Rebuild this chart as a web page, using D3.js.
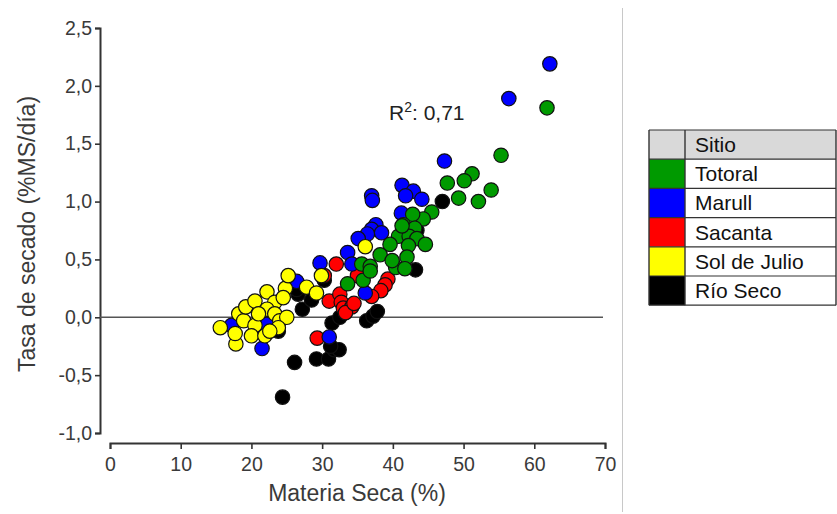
<!DOCTYPE html>
<html>
<head>
<meta charset="utf-8">
<script src="https://cdn.jsdelivr.net/npm/d3@7"></script>
<style>
  body { margin: 0; background: #fff; }
  svg { display: block; font-family: "Liberation Sans", Arial, sans-serif; }
</style>
</head>
<body>
<div id="chart"></div>
<script>
// site names + colours (legend order)
const sites = ['Totoral', 'Marull', 'Sacanta', 'Sol de Julio', 'Río Seco'];
const siteColors = ['#009a00', '#0000ff', '#ff0000', '#ffff00', '#000000'];

// [materia seca %, tasa de secado]
const totoral = [
  [61.8, 1.81], [55.3, 1.40], [51.2, 1.24], [50.1, 1.18], [47.7, 1.16], [53.9, 1.10],
  [49.3, 1.03], [52.1, 1.00], [45.5, 0.91], [44.3, 0.85], [42.8, 0.89], [41.5, 0.80],
  [43.1, 0.77], [40.8, 0.70], [42.3, 0.70], [43.4, 0.68], [39.6, 0.63], [42.2, 0.62],
  [44.6, 0.63], [38.2, 0.54], [42.0, 0.52], [35.6, 0.46], [36.8, 0.44], [40.4, 0.43],
  [41.7, 0.42], [33.6, 0.29], [35.8, 0.32], [36.8, 0.40], [39.9, 0.49], [41.3, 0.79]
];
const marull = [
  [62.2, 2.19], [56.4, 1.89], [47.3, 1.35], [37.0, 1.05], [37.1, 1.01], [41.3, 1.14],
  [42.9, 1.09], [41.8, 1.05], [44.1, 1.02], [41.2, 0.90], [37.6, 0.80], [37.0, 0.76],
  [38.4, 0.73], [36.4, 0.72], [35.1, 0.68], [33.6, 0.56], [34.2, 0.46], [29.7, 0.47],
  [26.4, 0.31], [36.1, 0.21], [31.0, -0.17], [21.5, -0.27], [17.2, -0.07], [22.2, -0.06]
];
const sacanta = [
  [32.0, 0.46], [35.0, 0.36], [39.3, 0.33], [38.9, 0.28], [38.3, 0.23], [37.0, 0.18],
  [31.0, 0.14], [32.5, 0.20], [32.7, 0.13], [33.0, 0.08], [34.2, 0.09], [33.3, 0.04],
  [29.3, -0.18], [30.3, 0.36], [34.5, 0.12]
];
const solDeJulio = [
  [15.6, -0.09], [17.8, -0.23], [17.7, -0.14], [18.2, 0.03], [18.9, -0.03], [19.2, 0.09],
  [20.5, 0.14], [22.2, 0.22], [20.5, -0.07], [20.0, -0.16], [21.9, -0.16], [23.3, 0.13],
  [22.2, 0.07], [23.3, 0.03], [24.0, -0.03], [25.0, 0.0], [23.8, -0.09], [24.8, 0.25],
  [25.2, 0.36], [24.5, 0.17], [27.8, 0.26], [29.2, 0.21], [29.9, 0.36], [36.1, 0.61],
  [22.6, -0.12], [21.0, 0.03]
];
const rioSeco = [
  [47.0, 1.00], [43.4, 0.75], [43.2, 0.41], [26.6, 0.20], [27.2, 0.07], [23.8, -0.12],
  [24.4, -0.69], [26.1, -0.39], [29.2, -0.36], [30.9, -0.36], [31.7, -0.28], [32.4, -0.28],
  [31.2, -0.25], [31.4, -0.05], [32.5, 0.0], [36.3, -0.03], [37.2, 0.01], [37.8, 0.05],
  [30.3, 0.32], [26.4, 0.24], [28.5, 0.15]
];
const seriesData = [totoral, marull, sacanta, solDeJulio, rioSeco];
// draw order, bottom to top
const drawOrder = [4, 2, 1, 0, 3];

const xTicks = [0, 10, 20, 30, 40, 50, 60, 70];
const yTicks = [-1.0, -0.5, 0.0, 0.5, 1.0, 1.5, 2.0, 2.5];
const r2Text = '0,71';

const width = 837, height = 514;
const svg = d3.select('#chart').append('svg')
  .attr('width', width).attr('height', height);

const x = d3.scaleLinear().domain([0, 70]).range([110, 605]);
const y = d3.scaleLinear().domain([-1, 2.5]).range([433, 28]);
const fmt = d3.format('.1f');

// y axis (offset to the left)
const yAxis = svg.append('g').attr('transform', 'translate(100,0)')
  .call(d3.axisLeft(y).tickValues(yTicks).tickSize(5).tickPadding(3)
    .tickFormat(d => fmt(d).replace('.', ',').replace('−', '-')));
// x axis (offset below)
const xAxis = svg.append('g').attr('transform', 'translate(0,443)')
  .call(d3.axisBottom(x).tickValues(xTicks).tickSize(6).tickPadding(8));

[yAxis, xAxis].forEach(ax => {
  ax.select('.domain').attr('stroke', '#333').attr('stroke-width', 2);
  ax.selectAll('.tick line').attr('stroke', '#333').attr('stroke-width', 1.6);
  ax.selectAll('.tick text').attr('fill', '#3a3a3a').style('font-size', '19.5px');
});

// zero line
svg.append('line')
  .attr('x1', 100).attr('x2', x(70) - 2)
  .attr('y1', y(0)).attr('y2', y(0))
  .attr('stroke', '#555').attr('stroke-width', 1.6);

// points
drawOrder.forEach(i => {
  svg.append('g').selectAll('circle').data(seriesData[i]).join('circle')
    .attr('cx', d => x(d[0])).attr('cy', d => y(d[1]))
    .attr('r', 7.2)
    .attr('fill', siteColors[i])
    .attr('stroke', '#111').attr('stroke-width', 1.2);
});

// axis titles
svg.append('text').attr('x', 357).attr('y', 501)
  .attr('text-anchor', 'middle').attr('fill', '#3a3a3a')
  .style('font-size', '23px').text('Materia Seca (%)');
svg.append('text')
  .attr('transform', 'translate(35,234) rotate(-90)')
  .attr('text-anchor', 'middle').attr('fill', '#3a3a3a')
  .style('font-size', '23px').text('Tasa de secado (%MS/día)');

// R2 label
const r2 = svg.append('text').attr('x', 389).attr('y', 120)
  .attr('fill', '#222').style('font-size', '21px');
r2.append('tspan').text('R');
r2.append('tspan').attr('dy', -8).style('font-size', '14px').text('2');
r2.append('tspan').attr('dy', 8).text(': ' + r2Text);

// separator line
svg.append('line').attr('x1', 622.5).attr('x2', 622.5).attr('y1', 8).attr('y2', 512)
  .attr('stroke', '#c8c8c8').attr('stroke-width', 1);

// legend table
const lg = { left: 649, right: 836, top: 130, rowH: 29.2, colW: 36 };
const legend = svg.append('g');
legend.append('rect')
  .attr('x', lg.left).attr('y', lg.top)
  .attr('width', lg.right - lg.left).attr('height', lg.rowH)
  .attr('fill', '#d9d9d9');
legend.selectAll('rect.sw').data(sites).join('rect')
  .attr('class', 'sw')
  .attr('x', lg.left).attr('y', (d, i) => lg.top + lg.rowH * (i + 1))
  .attr('width', lg.colW).attr('height', lg.rowH)
  .attr('fill', (d, i) => siteColors[i]);
const rowLines = d3.range(sites.length + 2);
legend.selectAll('line.h').data(rowLines).join('line')
  .attr('class', 'h')
  .attr('x1', lg.left).attr('x2', lg.right)
  .attr('y1', i => lg.top + lg.rowH * i).attr('y2', i => lg.top + lg.rowH * i)
  .attr('stroke', '#333').attr('stroke-width', 1.2);
const bottom = lg.top + lg.rowH * (sites.length + 1);
[lg.left, lg.left + lg.colW, lg.right].forEach(xv => {
  legend.append('line').attr('x1', xv).attr('x2', xv)
    .attr('y1', lg.top).attr('y2', bottom)
    .attr('stroke', '#333').attr('stroke-width', 1.4);
});
legend.selectAll('text').data(['Sitio'].concat(sites)).join('text')
  .attr('x', lg.left + lg.colW + 10)
  .attr('y', (d, i) => lg.top + lg.rowH * i + 22)
  .attr('fill', '#111').style('font-size', '21px')
  .text(d => d);
</script>
</body>
</html>
